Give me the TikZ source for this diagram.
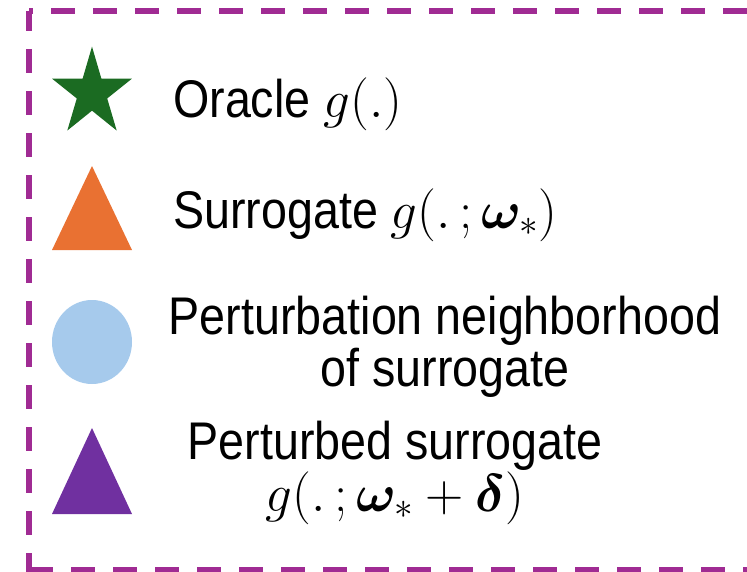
\RequirePackage{fix-cm}
\documentclass[tikz,border=0pt]{standalone}
\usepackage{amsmath,bm}
\usepackage{fontspec}
\setmainfont{Liberation Sans}[FakeStretch=0.88]
\usetikzlibrary{positioning}
\definecolor{framepurple}{HTML}{A02B93}
\definecolor{oraclegreen}{HTML}{1B6B22}
\definecolor{surrorange}{HTML}{E97132}
\definecolor{neighblue}{HTML}{A6CAEC}
\definecolor{perturbpurple}{HTML}{7030A0}
\tikzstyle{frame}=[draw=framepurple,line width=6pt,dash pattern=on 24pt off 18pt]
\tikzstyle{legend text}=[inner sep=0pt,font=\fontsize{53}{52}\selectfont]

\begin{document}
\begin{tikzpicture}[x=1pt,y=-1pt]
    \useasboundingbox (0,0) rectangle (747,571);
    % Dashed frame, right side lies outside the picture
    \draw[frame,dash phase=4pt] (29,11) -- (29,574);
    \draw[frame] (29,570) -- (760,570);
    \draw[frame,dash phase=20pt] (29,11) -- (760,11);

    % Legend markers
    \fill[oraclegreen,shift={(92,93)},yscale=1.105] (-90:42) -- (-54:16) -- (-18:42) -- (18:16) -- (54:42)
        -- (90:16) -- (126:42) -- (162:16) -- (198:42) -- (234:16) -- cycle;
    \fill[surrorange] (52,250) -- (92,166) -- (132,250) -- cycle;
    \fill[neighblue] (92,342) ellipse [x radius=40, y radius=42];
    \fill[perturbpurple] (52,514) -- (92,428) -- (132,514) -- cycle;

    % Legend texts (base = baseline of the last line)
    \node[legend text,anchor=base west] (oracle) at (173,117) {Oracle $g(.)$};
    \node[legend text,anchor=base west] (surrogate) at (173,228) {Surrogate $g(.\,;\bm{\omega}_*)$};
    \node[legend text,align=center,anchor=base] (neighbourhood) at (445,386) {Perturbation neighborhood\\of surrogate};
    \node[legend text,align=center,anchor=base] (perturbed) at (395,511) {Perturbed surrogate\\$g(.\,;\bm{\omega}_*+\bm{\delta})$};
\end{tikzpicture}
\end{document}
